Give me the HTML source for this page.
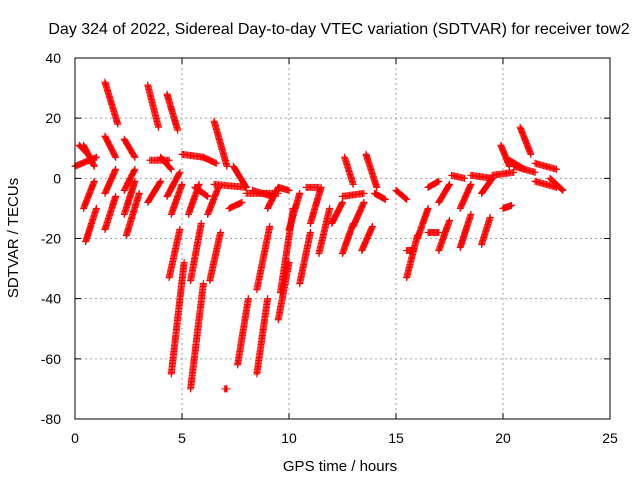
<!DOCTYPE html>
<html><head><meta charset="utf-8"><style>
body{margin:0;background:#fff}
text{font-family:"Liberation Sans",sans-serif;font-size:14px;fill:#000}
</style></head><body>
<svg id="chart" width="640" height="480">
<rect width="640" height="480" fill="#fff"/>
<text x="339" y="34" text-anchor="middle" style="font-size:16px">Day 324 of 2022, Sidereal Day-to-day VTEC variation (SDTVAR) for receiver tow2</text>
<g id="grid"></g>
<g id="marks"></g>
<rect x="75" y="58" width="535" height="361" fill="none" stroke="#000" stroke-width="1"/>
<g id="ticks"></g>
<text x="340" y="471" text-anchor="middle" style="font-size:15px">GPS time / hours</text>
<text x="18" y="238" text-anchor="middle" style="font-size:15px" transform="rotate(-90 18 238)">SDTVAR / TECUs</text>
</svg>
<script>
const xTicks=[0,5,10,15,20,25];
const yTicks=[40,20,0,-20,-40,-60,-80];
// tracks: [startHour, startValue, endHour, endValue]
const trackStartHours=[1.4,3.4,4.3,6.5,7.4,12.6,13.6,20.8,19.9,0.4,1.4,2.3,4.0,0.0,3.5,5.0,6.0,6.5,8.0,9.5,0.5,0.4,1.4,1.4,2.3,2.3,2.4,3.4,4.3,4.5,4.4,4.5,5.4,5.4,6.3,7.6,8.5,8.5,9.5,9.6,10.5,11.4,12.5,13.4,15.5,16.0,17.0,18.0,19.0,10.0,11.0,12.0,13.0,17.0,18.0,19.0,20.0,15.5,7.0,16.5,8.3,10.8,12.5,14.0,15.0,16.5,17.6,18.5,19.5,20.5,21.5,21.5,22.2,20.3,0.2,5.6,7.2,5.3,6.2,9.0];
const trackStartValues=[32,31,28,19,4,7,8,17,11,11,14,13,7,4,6,8,7,-2,-5,-3,-21,-10,-17,-5,-12,-4,-19,-8,-6,-12,-33,-65,-34,-70,-34,-62,-65,-37,-47,-38,-35,-25,-25,-24,-33,-20,-24,-23,-22,-17,-15,-15,-16,-8,-10,-5,-10,-24,-70,-18,-4,-3,-6,-5,-4,-3,1,1,1,4,5,-1,0,6,11,-3,-10,-12,-12,-10];
const trackEndHours=[2.0,3.9,4.8,7.1,8.0,13.0,14.1,21.3,20.3,0.9,1.9,2.8,4.5,1.0,4.4,6.0,6.6,8.0,9.5,10.0,1.0,0.9,1.9,1.9,2.8,2.8,3.0,4.0,4.9,5.0,4.9,5.1,5.9,6.0,6.8,8.1,9.0,9.1,10.0,10.2,11.0,11.9,13.0,13.9,16.0,16.5,17.5,18.5,19.4,10.5,11.5,12.5,13.5,17.5,18.5,19.5,20.4,15.8,7.1,17.0,9.2,11.4,13.5,14.5,15.5,17.0,18.2,19.5,20.5,21.5,22.5,22.5,22.8,21.0,0.6,6.2,7.8,5.8,6.7,9.5];
const trackEndValues=[18,17,16,4,-3,-2,-3,8,4,4,7,7,3,7,6,7,5,-3,-5,-4,-10,-1,-6,3,-1,3,-5,-1,2,-2,-17,-28,-15,-35,-18,-40,-40,-16,-28,-10,-18,-10,-15,-16,-19,-10,-14,-12,-13,-5,-3,-8,-8,-2,-2,0,-9,-24,-70,-18,-6,-3,-5,-7,-7,-1,0,0,2,2,3,-3,-4,3,8,-6,-8,-2,-3,-3];
const X=h=>75+h*535/25, Y=v=>58+(40-v)*361/120;
const NS='http://www.w3.org/2000/svg';
const grid=document.getElementById('grid'),ticks=document.getElementById('ticks'),marks=document.getElementById('marks');
xTicks.forEach(t=>{
 if(t>0&&t<25){const l=document.createElementNS(NS,'line');
 l.setAttribute('x1',X(t));l.setAttribute('x2',X(t));l.setAttribute('y1',58);l.setAttribute('y2',419);
 l.setAttribute('stroke','#a0a0a0');l.setAttribute('stroke-dasharray','2,3');
 
 grid.appendChild(l);}
 const tk=document.createElementNS(NS,'path');
 tk.setAttribute('d',`M${X(t)},419v-6M${X(t)},58v6`);tk.setAttribute('stroke','#000');
 
 ticks.appendChild(tk);
 const tx=document.createElementNS(NS,'text');tx.setAttribute('x',X(t));tx.setAttribute('y',443);tx.setAttribute('text-anchor','middle');tx.textContent=t;
 
 ticks.appendChild(tx);
});
yTicks.forEach(t=>{
 if(t<40&&t>-80){const l=document.createElementNS(NS,'line');
 l.setAttribute('x1',75);l.setAttribute('x2',610);l.setAttribute('y1',Y(t));l.setAttribute('y2',Y(t));
 l.setAttribute('stroke','#a0a0a0');l.setAttribute('stroke-dasharray','2,3');
 
 grid.appendChild(l);}
 const tk=document.createElementNS(NS,'path');
 tk.setAttribute('d',`M75,${Y(t)}h6M610,${Y(t)}h-6`);tk.setAttribute('stroke','#000');
 
 ticks.appendChild(tk);
 const tx=document.createElementNS(NS,'text');tx.setAttribute('x',61);tx.setAttribute('y',Y(t)+5);tx.setAttribute('text-anchor','end');tx.textContent=t;
 
 ticks.appendChild(tx);
});
trackStartHours.forEach((h0,i)=>{
 const x0=X(h0),y0=Y(trackStartValues[i]),x1=X(trackEndHours[i]),y1=Y(trackEndValues[i]);
 const len=Math.hypot(x1-x0,y1-y0),n=Math.max(1,Math.ceil(len/1.5));
 let d='';
 for(let k=0;k<=n;k++){const x=x0+(x1-x0)*k/n,y=y0+(y1-y0)*k/n;d+=`M${x-3.5},${y}h7M${x},${y-3.5}v7`;}
 const p=document.createElementNS(NS,'path');p.setAttribute('d',d);p.setAttribute('stroke','#ff0000');p.setAttribute('stroke-width','1.2');p.setAttribute('fill','none');
 
 marks.appendChild(p);
});
</script>
</body></html>
